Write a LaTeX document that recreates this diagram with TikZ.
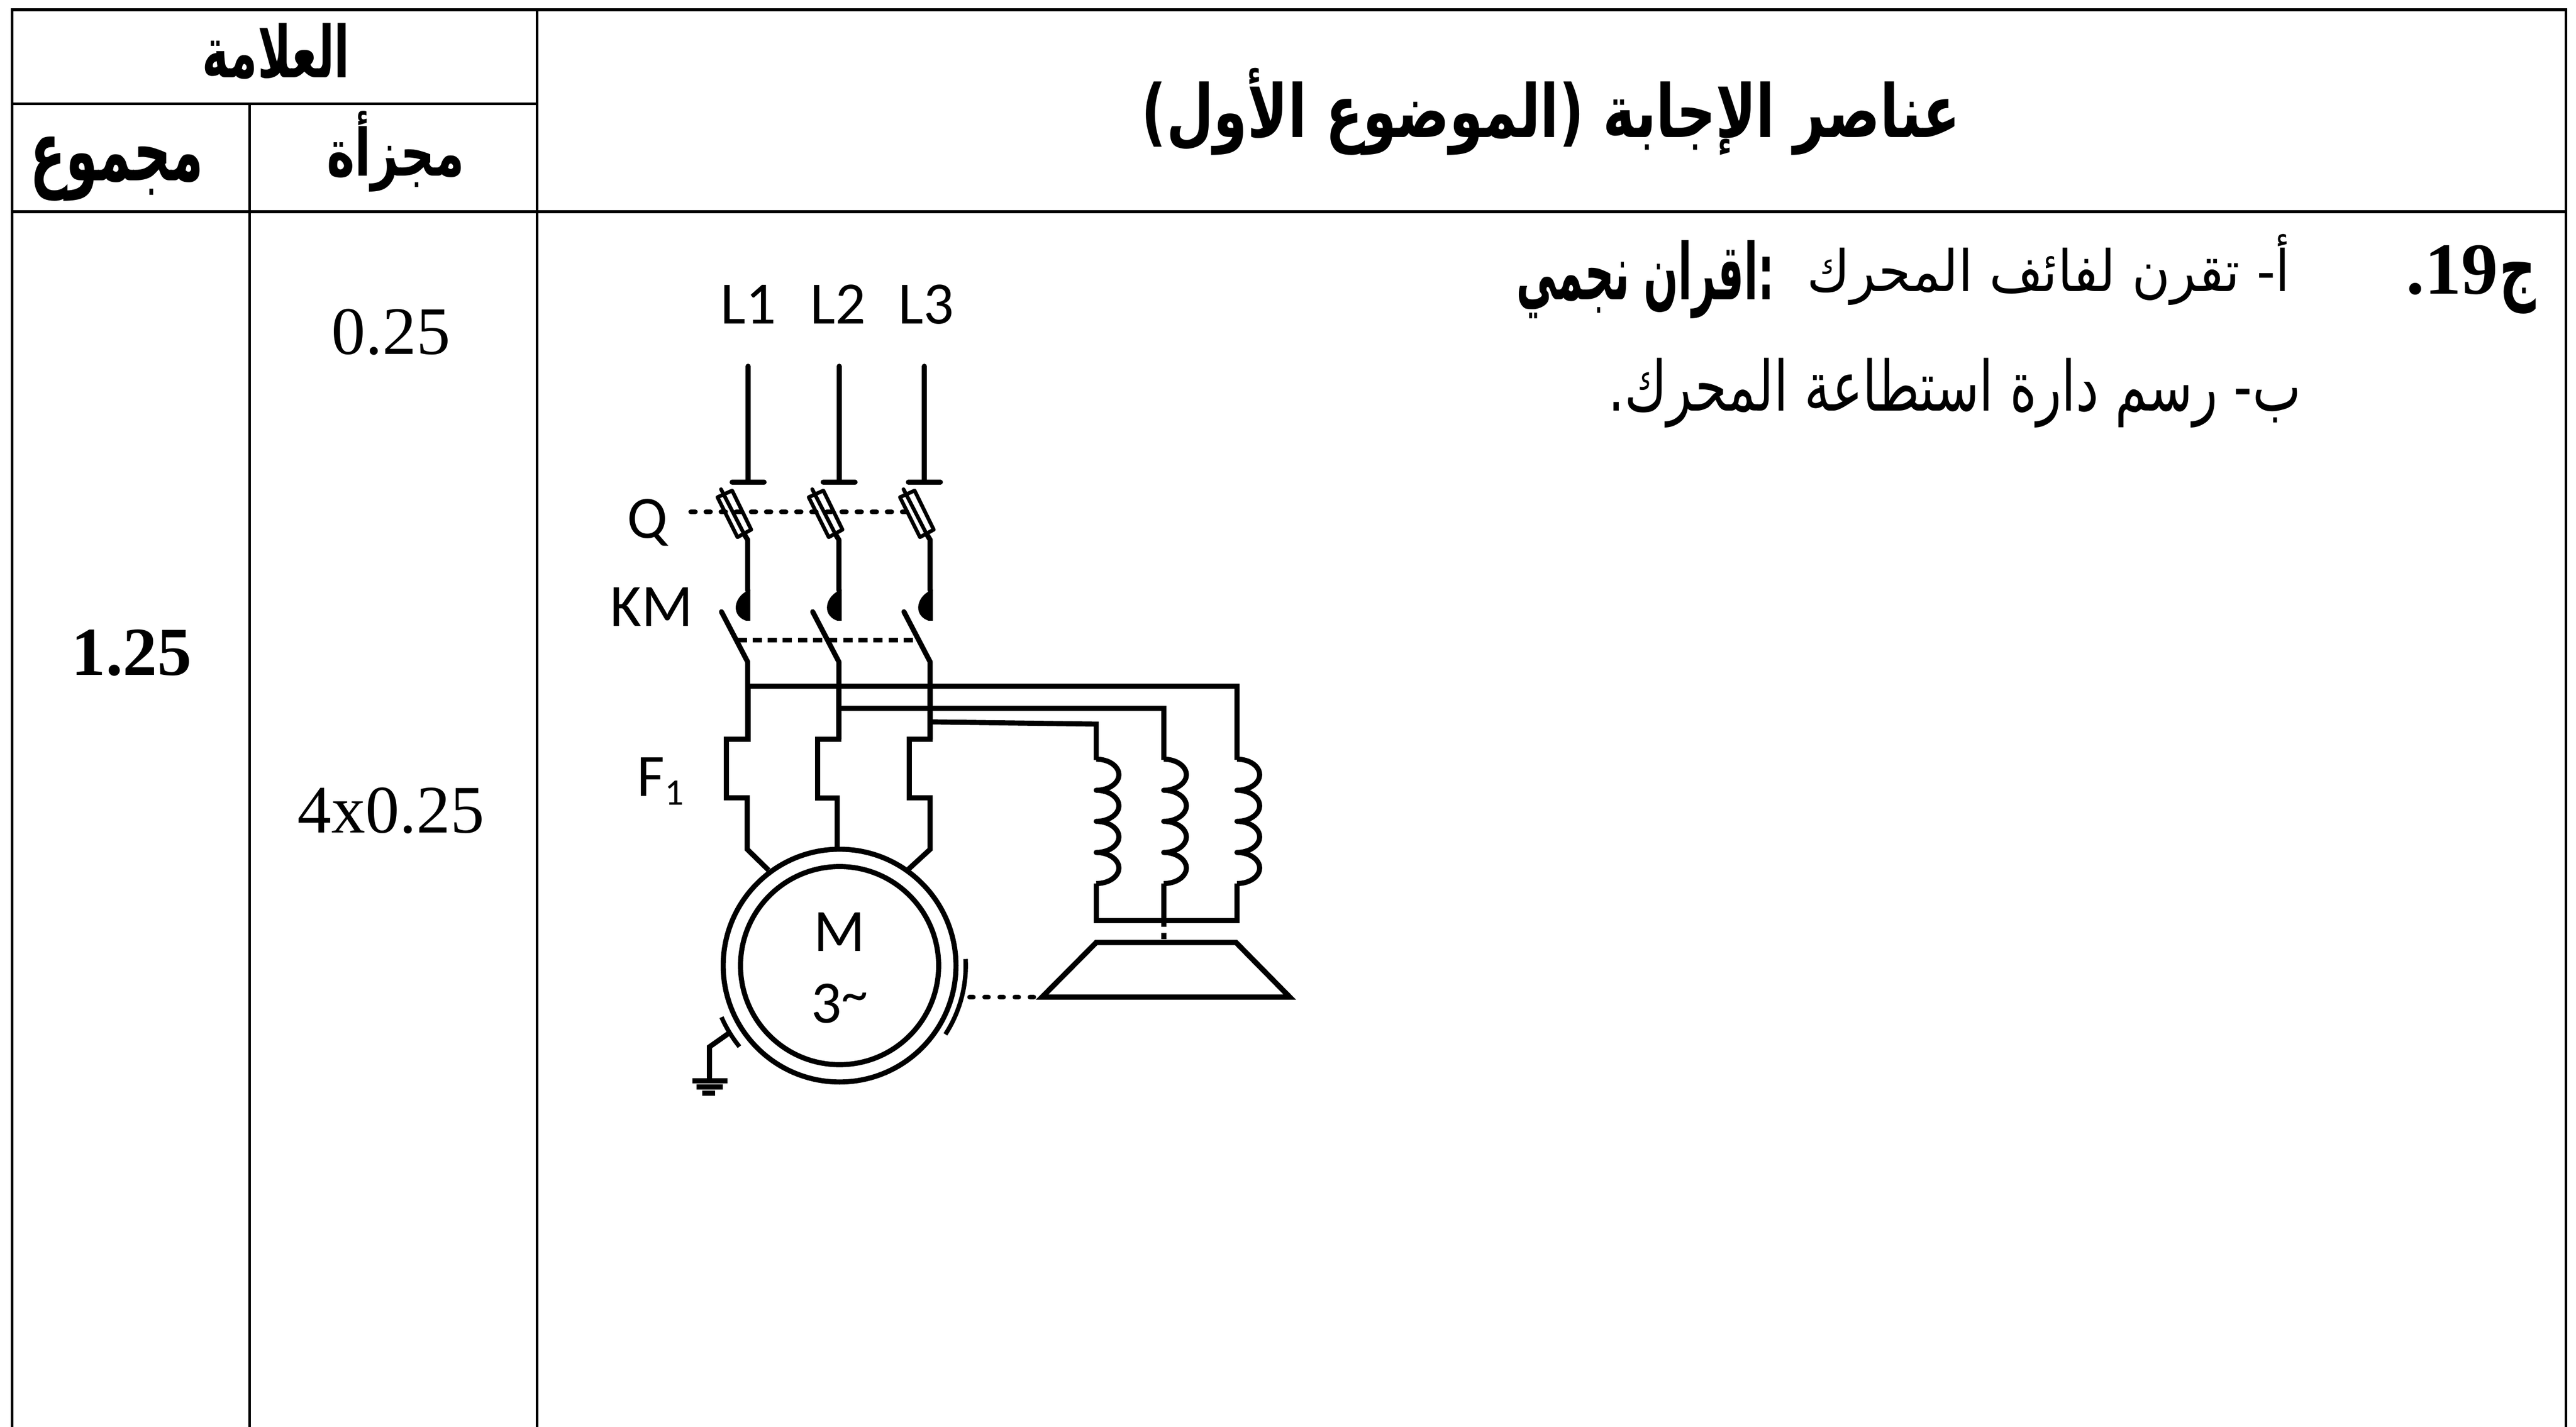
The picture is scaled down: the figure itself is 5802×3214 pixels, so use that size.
\documentclass[tikz,border=0pt]{standalone}
\usepackage{fontspec}
\usepackage{graphicx}
\setmainfont{Liberation Serif}
\newfontfamily\arb[Script=Arabic]{DejaVu Sans}
\newfontfamily\arbb[Script=Arabic]{DejaVu Sans Bold}
\newfontfamily\lab{Carlito}
\TeXXeTstate=1
\newcommand{\arbox}[3]{\resizebox*{#1}{#2}{#3}}
\tikzset{
  tbl/.style={line width=0.06cm,black},
  wire/.style={line width=0.115cm,black},
  rwire/.style={wire,line cap=round,line join=round},
  qdash/.style={line width=0.11cm,line cap=round,dash pattern=on 0.1cm off 0.24cm},
  kdash/.style={line width=0.11cm,dash pattern=on 0.21cm off 0.13cm},
  ldot/.style={line width=0.11cm,line cap=round,dash pattern=on 0.08cm off 0.26cm},
  ltxt/.style={font=\lab\fontsize{38.5pt}{38.5pt}\selectfont,inner sep=0,anchor=base},
  num/.style={font=\fontsize{43.5pt}{43.5pt}\selectfont,inner sep=0,anchor=base},
  numb/.style={font=\bfseries\fontsize{44pt}{44pt}\selectfont,inner sep=0,anchor=base},
  art/.style={inner sep=0,anchor=center}
}
\begin{document}
\begin{tikzpicture}[x=0.01cm,y=-0.01cm]
\useasboundingbox (0,0) rectangle (5802,3214);
\fill[white] (0,0) rectangle (5802,3214);
% table
\draw[tbl] (27,3214) -- (27,22) -- (5779,22) -- (5779,3214);
\draw[tbl] (1210,22) -- (1210,3214);
\draw[tbl] (562,234) -- (562,3214);
\draw[tbl] (27,234) -- (1210,234);
\draw[tbl] (27,477) -- (5779,477);
% headers
\node[art] (title) at (3493,252) {\arbox{18.42cm}{1.96cm}{\arbb\beginR عناصر الإجابة (الموضوع الأول)\endR}};
\node[art] (alama) at (622,115) {\arbox{3.32cm}{1.26cm}{\arbb\beginR العلامة\endR}};
\node[art] (majmou) at (263,380) {\arbox{3.90cm}{1.46cm}{\arbb\beginR مجموع\endR}};
\node[art] (mujazaa) at (891,341) {\arbox{3.10cm}{1.82cm}{\arbb\beginR مجزأة\endR}};
% marks
\node[num] (m1) at (881,798) {0.25};
\node[num] (m2) at (881,1876) {4x0.25};
\node[numb] (total) at (296,1521) {1.25};
% question text
\node[numb,font=\bfseries\fontsize{47pt}{47pt}\selectfont,anchor=base east] (qn) at (5627,662) {.19};
\node[art] (qj) at (5671,648) {\arbox{0.82cm}{1.17cm}{\arbb\beginR ج\endR}};
\node[art] (a1) at (4614,608) {\arbox{10.86cm}{1.60cm}{\arb\beginR أ- تقرن لفائف المحرك\endR}};
\node[art] (a2) at (3706,630) {\arbox{5.80cm}{1.76cm}{\arbb\beginR :اقران نجمي\endR}};
\node[art] (b1) at (4402,885) {\arbox{15.59cm}{1.57cm}{\arb\beginR ب- رسم دارة استطاعة المحرك.\endR}};
% circuit labels
\node[ltxt] (L1) at (1686,729) {L1};
\node[ltxt] (L2) at (1888,729) {L2};
\node[ltxt] (L3) at (2086,729) {L3};
\node[ltxt] (Q) at (1458,1212) {Q};
\node[ltxt] (KM) at (1468,1410) {KM};
\node[ltxt,anchor=base west] (F1) at (1434,1793) {F\raisebox{-5.7pt}{\fontsize{24pt}{24pt}\selectfont 1}};
\node[ltxt] (M) at (1891,2143) {M};
\node[ltxt] (three) at (1891,2304) {3\raisebox{7pt}{\fontsize{34pt}{34pt}\selectfont\char`~}};
% supply lines and breaker caps
\foreach \x in {1685,1890,2082}{
  \draw[rwire] (\x,825) -- (\x,1086);
  \draw[rwire] (\x-36,1086) -- (\x+36,1086);
}
% repeated poles
\foreach \d in {0,205.5,411}{
  \begin{scope}[xshift=\d*0.01cm]
    % fuse switch
    \draw[line width=0.085cm,line join=round] (1616,1120) -- (1649,1105) -- (1692,1193) -- (1661,1210) -- cycle;
    \draw[line width=0.085cm,line cap=round] (1624,1102) -- (1676,1203);
    \draw[rwire] (1676,1203) -- (1684,1216) -- (1684,1330);
    % contactor contact
    \fill (1690,1328) .. controls (1654,1340) and (1643,1385) .. (1680,1398) -- (1690,1398) -- cycle;
    \draw[rwire] (1625,1378) -- (1684,1491) -- (1684,1665);
  \end{scope}
}
\draw[qdash] (1556,1153) -- (2044,1153);
\draw[kdash] (1661,1442) -- (2068,1442);
% thermal relay
\draw[wire,line join=miter] (1685,1540) -- (1685,1665) -- (1636,1665) -- (1636,1797) -- (1683,1797) -- (1683,1913) -- (1731,1960);
\draw[wire,line join=miter] (1889,1540) -- (1889,1665) -- (1842,1665) -- (1842,1797) -- (1886,1797) -- (1886,1911);
\draw[wire,line join=miter] (2095,1540) -- (2095,1665) -- (2048,1665) -- (2048,1797) -- (2095,1797) -- (2095,1913) -- (2046,1958);
% motor
\coordinate (mc) at (1891,2175);
\draw[line width=0.115cm] (mc) circle[radius=2.62cm];
\draw[line width=0.115cm] (mc) circle[radius=2.23cm];
\draw[line width=0.1cm] (mc) ++(3:2.84cm) arc[start angle=3,end angle=-33,radius=2.84cm];
\draw[line width=0.1cm] (mc) ++(203.6:2.9cm) arc[start angle=203.6,end angle=219,radius=2.9cm];
% earth
\draw[wire,line join=miter] (1642,2327) -- (1598,2358) -- (1598,2434);
\draw[wire] (1560,2434) -- (1638,2434);
\draw[wire] (1569,2448) -- (1628,2448);
\draw[wire] (1582,2462) -- (1611,2462);
% star connected load
\draw[wire,line join=miter] (1685,1546) -- (2786,1546) -- (2786,1712);
\draw[wire,line join=miter] (1889,1596) -- (2621,1596) -- (2621,1712);
\draw[wire,line join=miter] (2095,1626) -- (2469,1631) -- (2469,1712);
\foreach \x in {2469,2621,2786}{
  \draw[wire,line join=round] (\x,1710)
     arc[start angle=90,end angle=-90,x radius=0.51cm,y radius=0.35cm]
     arc[start angle=90,end angle=-90,x radius=0.51cm,y radius=0.35cm]
     arc[start angle=90,end angle=-90,x radius=0.51cm,y radius=0.35cm]
     arc[start angle=90,end angle=-90,x radius=0.51cm,y radius=0.35cm];
}
\draw[wire,line join=miter] (2469,1990) -- (2469,2074) -- (2786,2074) -- (2786,1990);
\draw[wire] (2621,1990) -- (2621,2087);
\draw[wire] (2621,2102) -- (2621,2115);
% fan
\draw[line width=0.12cm,line join=miter] (2469,2123) -- (2784,2123) -- (2905,2246) -- (2347,2246) -- cycle;
\draw[ldot] (2184,2246) -- (2336,2246);
\end{tikzpicture}
\end{document}
